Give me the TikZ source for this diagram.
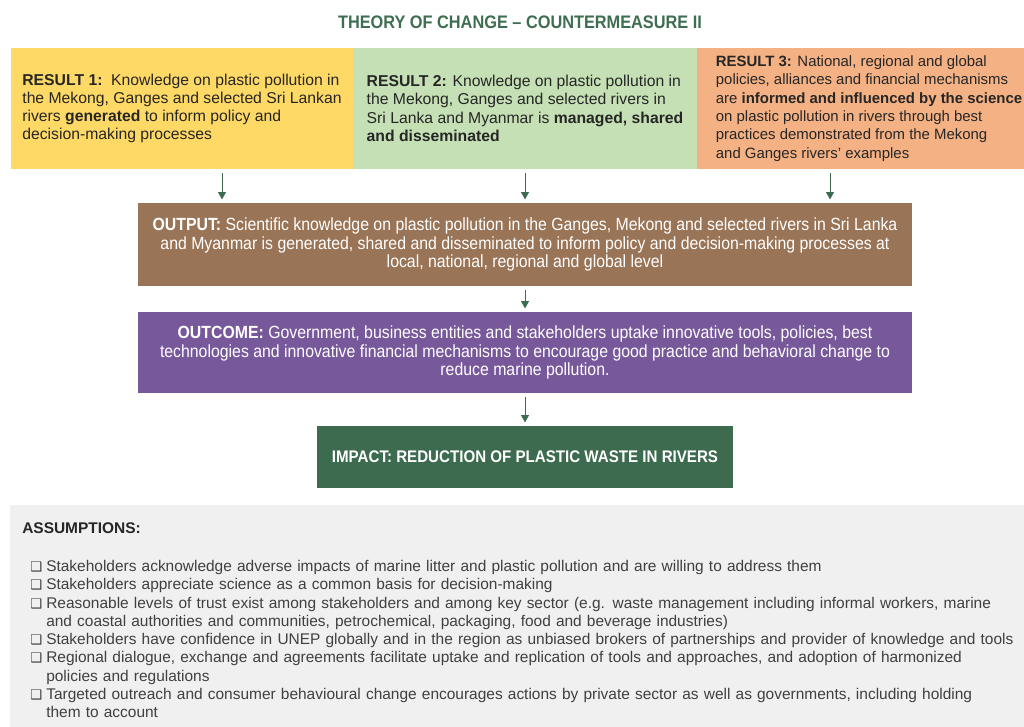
\documentclass[tikz,border=0pt]{standalone}
\usepackage{fontspec}
\setmainfont{Liberation Sans}
\newfontfamily\condfont[FakeStretch=0.9]{Liberation Sans}
\newfontfamily\boxglyph{DejaVu Sans}
\usetikzlibrary{arrows.meta}

\definecolor{resyellow}{HTML}{FFD966}
\definecolor{resgreen}{HTML}{C5E0B4}
\definecolor{ressalmon}{HTML}{F4B183}
\definecolor{outbrown}{HTML}{9A7456}
\definecolor{outpurple}{HTML}{77589A}
\definecolor{impgreen}{HTML}{3C6B4F}
\definecolor{asmgray}{HTML}{F0F0F0}
\definecolor{titlegreen}{HTML}{3E6E50}
\definecolor{restext}{HTML}{262626}
\definecolor{asmtext}{HTML}{404040}

% bullet and hanging indent for the assumptions list
\newcommand{\asmp}{\hspace*{6pt}\makebox[12pt][l]{{\boxglyph\fontsize{10}{10}\selectfont ❑}}}
\newcommand{\asmpcont}{\hspace*{18pt}}

\begin{document}
\begin{tikzpicture}[x=0.75pt, y=-0.75pt,
    resbox/.style={rectangle, minimum height=90.75pt, inner sep=0pt, align=left, text=restext, font=\fontsize{11.8}{13.7}\selectfont},
    midbox/.style={rectangle, minimum width=580.5pt, inner sep=0pt, align=center, text=white, font=\condfont\fontsize{13.2}{14.2}\selectfont},
    flow/.style={-{Triangle[width=6pt,length=5.5pt]}, draw=impgreen, line width=0.6pt, shorten <=3pt, shorten >=2.5pt}]
    \useasboundingbox (0,0) rectangle (1024,727);
    \clip (0,0) rectangle (1024,727);
    \fill[white] (0,0) rectangle (1024,727);

    % Title
    \node[text=titlegreen, font=\condfont\bfseries\fontsize{13.6}{15}\selectfont] (title) at (520,22) {THEORY OF CHANGE – COUNTERMEASURE II};

    % Results
    \node[resbox, fill=resyellow, minimum width=256.5pt] (r1) at (182,108.5) {\textbf{RESULT 1:}\ \ Knowledge on plastic pollution in\\the Mekong, Ganges and selected Sri Lankan\\rivers \textbf{generated} to inform policy and\\decision-making processes};
    \node[resbox, fill=resgreen, minimum width=258pt] (r2) at (525,108.5) {\textbf{RESULT 2:} Knowledge on plastic pollution in\\the Mekong, Ganges and selected rivers in\\Sri Lanka and Myanmar is \textbf{managed, shared}\\\textbf{and disseminated}};
    \node[resbox, fill=ressalmon, minimum width=258pt, font=\fontsize{11.2}{13.7}\selectfont] (r3) at (869,108.5) {\textbf{RESULT 3:} National, regional and global\\policies, alliances and financial mechanisms\\are \textbf{informed and influenced by the science}\\on plastic pollution in rivers through best\\practices demonstrated from the Mekong\\and Ganges rivers’ examples};

    % Output, outcome and impact
    \node[midbox, fill=outbrown, minimum height=62.25pt] (out) at (525,244.5) {\textbf{OUTPUT:} Scientific knowledge on plastic pollution in the Ganges, Mekong and selected rivers in Sri Lanka\\and Myanmar is generated, shared and disseminated to inform policy and decision-making processes at\\local, national, regional and global level};
    \node[midbox, fill=outpurple, minimum height=60.75pt] (outc) at (525,352.5) {\textbf{OUTCOME:} Government, business entities and stakeholders uptake innovative tools, policies, best\\technologies and innovative financial mechanisms to encourage good practice and behavioral change to\\reduce marine pollution.};
    \node[rectangle, fill=impgreen, minimum width=312pt, minimum height=46.5pt, text=white, font=\condfont\bfseries\fontsize{12.6}{14}\selectfont] (imp) at (525,457) {IMPACT: REDUCTION OF PLASTIC WASTE IN RIVERS};

    % Arrows
    \draw[flow] ([xshift=30pt]r1.south) -- ([xshift=30pt]r1.south |- out.north);
    \draw[flow] (r2.south) -- (out.north);
    \draw[flow] ([xshift=-29.25pt]r3.south) -- ([xshift=-29.25pt]r3.south |- out.north);
    \draw[flow] (out) -- (outc);
    \draw[flow] (outc) -- (imp);

    % Assumptions
    \node[rectangle, fill=asmgray, anchor=north west, minimum width=787.5pt, minimum height=172.5pt, inner xsep=9pt, inner ysep=0pt, text width=769.5pt, align=left, text=asmtext, font=\fontsize{11.6}{13.7}\selectfont] (asm) at (10,505) {{\color{restext}\textbf{ASSUMPTIONS:}}\\[14.8pt]
\asmp Stakeholders acknowledge adverse impacts of marine litter and plastic pollution and are willing to address them\\
\asmp Stakeholders appreciate science as a common basis for decision-making\\
\asmp Reasonable levels of trust exist among stakeholders and among key sector (e.g. waste management including informal workers, marine\\
\asmpcont and coastal authorities and communities, petrochemical, packaging, food and beverage industries)\\
\asmp Stakeholders have confidence in UNEP globally and in the region as unbiased brokers of partnerships and provider of knowledge and tools\\
\asmp Regional dialogue, exchange and agreements facilitate uptake and replication of tools and approaches, and adoption of harmonized\\
\asmpcont policies and regulations\\
\asmp Targeted outreach and consumer behavioural change encourages actions by private sector as well as governments, including holding\\
\asmpcont them to account};
\end{tikzpicture}
\end{document}
